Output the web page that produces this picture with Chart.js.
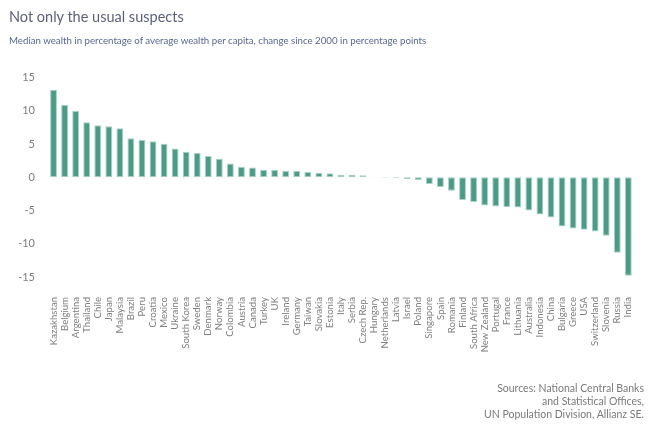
<!DOCTYPE html>
<html>
<head>
    <title>Not only the usual suspects</title>
    <script src="https://cdn.jsdelivr.net/npm/chart.js"></script>
    <style>
        body {
            margin: 0;
            padding: 0;
            background: #fff;
            font-family: Lato, "Open Sans", sans-serif;
        }
        .wrap {
            position: relative;
            width: 660px;
            height: 439px;
        }
        h1 {
            position: absolute;
            left: 9px;
            top: 8px;
            margin: 0;
            font-size: 14.5px;
            font-weight: normal;
            color: #5c6178;
        }
        .sub {
            position: absolute;
            left: 9px;
            top: 34px;
            font-size: 9.7px;
            color: #56688f;
        }
        .source {
            position: absolute;
            right: 16px;
            top: 382px;
            font-size: 10.5px;
            line-height: 13px;
            text-align: right;
            color: #7a7a7a;
        }
        canvas {
            position: absolute;
            left: 0;
            top: 0;
        }
    </style>
</head>
<body>
<div class="wrap">
    <canvas id="chart" width="660" height="439"></canvas>
    <h1>Not only the usual suspects</h1>
    <div class="sub">Median wealth in percentage of average wealth per capita, change since 2000 in percentage points</div>
    <div class="source">Sources: National Central Banks<br>and Statistical Offices,<br>UN Population Division, Allianz SE.</div>
</div>

<script>
    const countries = ['Kazakhstan', 'Belgium', 'Argentina', 'Thailand', 'Chile', 'Japan', 'Malaysia', 'Brazil',
        'Peru', 'Croatia', 'Mexico', 'Ukraine', 'South Korea', 'Sweden', 'Denmark', 'Norway', 'Colombia',
        'Austria', 'Canada', 'Turkey', 'UK', 'Ireland', 'Germany', 'Taiwan', 'Slovakia', 'Estonia', 'Italy',
        'Serbia', 'Czech Rep.', 'Hungary', 'Netherlands', 'Latvia', 'Israel', 'Poland', 'Singapore', 'Spain',
        'Romania', 'Finland', 'South Africa', 'New Zealand', 'Portugal', 'France', 'Lithuania', 'Australia',
        'Indonesia', 'China', 'Bulgaria', 'Greece', 'USA', 'Switzerland', 'Slovenia', 'Russia', 'India'];

    const change = [13.2, 10.9, 10.0, 8.3, 7.85, 7.7, 7.4, 5.9,
        5.65, 5.45, 5.05, 4.35, 3.85, 3.65, 3.2, 2.8, 2.1,
        1.6, 1.5, 1.1, 1.1, 1.0, 1.0, 0.8, 0.7, 0.6, 0.4,
        0.4, 0.3, 0.05, -0.05, -0.1, -0.25, -0.4, -1.0, -1.45,
        -2.0, -3.4, -3.7, -4.25, -4.4, -4.45, -4.55, -5.0,
        -5.6, -6.05, -7.4, -7.7, -7.9, -8.15, -8.8, -11.35, -14.8];

    const yTicks = [15, 10, 5, 0, -5, -10, -15];

    new Chart(document.getElementById('chart'), {
        type: 'bar',
        data: {
            labels: countries,
            datasets: [{
                data: change,
                backgroundColor: '#4c9b87',
                borderColor: '#a9d2c7',
                borderWidth: 1,
                borderSkipped: false,
                barPercentage: 0.62,
                categoryPercentage: 1
            }]
        },
        options: {
            responsive: false,
            animation: false,
            layout: {
                padding: { top: 77.7, left: 8, right: 15, bottom: 82 }
            },
            plugins: {
                legend: { display: false },
                tooltip: { enabled: false }
            },
            scales: {
                x: {
                    grid: { display: false, drawTicks: false },
                    border: { display: false },
                    ticks: {
                        autoSkip: false,
                        minRotation: 90,
                        maxRotation: 90,
                        padding: 20,
                        color: '#7f7f7f',
                        font: { family: 'Lato', size: 9.6 }
                    },
                    afterFit: (scale) => { scale.height = 80; }
                },
                y: {
                    min: -15,
                    max: 15,
                    grid: { display: false, drawTicks: false },
                    border: { display: false },
                    afterBuildTicks: (scale) => {
                        scale.ticks = yTicks.map(v => ({ value: v }));
                    },
                    ticks: {
                        padding: 13,
                        color: '#7d7d7d',
                        font: { family: 'Lato', size: 11 }
                    },
                    afterFit: (scale) => { scale.width = 40; }
                }
            }
        }
    });
</script>
</body>
</html>
